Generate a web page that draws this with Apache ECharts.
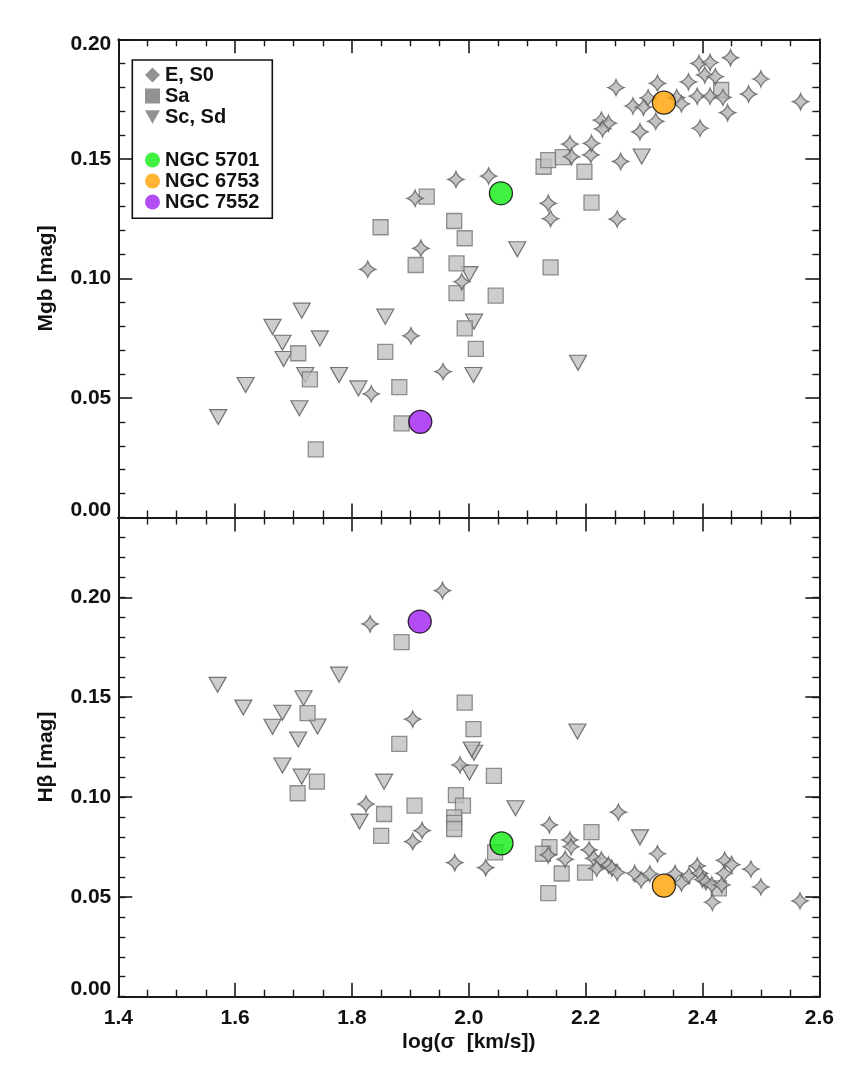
<!DOCTYPE html>
<html><head><meta charset="utf-8">
<script src="https://cdn.jsdelivr.net/npm/echarts@6/dist/echarts.min.js"></script>
<style>html,body{margin:0;padding:0;background:#fff}#c{width:855px;height:1072px}</style>
</head><body><div id="c"></div>
<script>
// ---- tick labels ----
const xTickLabels = ['1.4','1.6','1.8','2.0','2.2','2.4','2.6'];
const yTickLabels = ['0.00','0.05','0.10','0.15','0.20'];

// ---- top panel: Mgb vs log(sigma) ----
const mgbE = [[1.827,0.1038],[1.833,0.0517],[1.901,0.0760],[1.908,0.1335],[1.918,0.1126],[1.956,0.0610],[1.978,0.1414],[1.988,0.0986],[2.034,0.1428],[2.136,0.1314],[2.140,0.1250],[2.173,0.1562],[2.176,0.1509],[2.209,0.1517],[2.210,0.1565],[2.227,0.1662],[2.239,0.1649],[2.229,0.1625],[2.254,0.1248],[2.260,0.1489],[2.252,0.1798],[2.281,0.1721],[2.299,0.1716],[2.307,0.1755],[2.293,0.1613],[2.320,0.1657],[2.323,0.1816],[2.356,0.1756],[2.364,0.1730],[2.376,0.1822],[2.391,0.1762],[2.394,0.1899],[2.396,0.1628],[2.404,0.1851],[2.413,0.1903],[2.413,0.1762],[2.422,0.1844],[2.435,0.1757],[2.443,0.1693],[2.448,0.1923],[2.479,0.1771],[2.500,0.1834],[2.568,0.1739]];
const mgbSa = [[1.708,0.0687],[1.728,0.0578],[1.738,0.0285],[1.849,0.1214],[1.857,0.0693],[1.881,0.0545],[1.885,0.0394],[1.909,0.1056],[1.928,0.1342],[1.975,0.1240],[1.979,0.1063],[1.979,0.0938],[1.993,0.1168],[1.993,0.0791],[2.012,0.0705],[2.046,0.0928],[2.128,0.1467],[2.136,0.1495],[2.161,0.1507],[2.198,0.1446],[2.210,0.1317],[2.140,0.1046],[2.432,0.1788]];
const mgbSc = [[1.571,0.0420],[1.618,0.0554],[1.664,0.0797],[1.681,0.0731],[1.683,0.0663],[1.714,0.0865],[1.710,0.0457],[1.720,0.0596],[1.745,0.0749],[1.778,0.0596],[1.811,0.0540],[1.857,0.0840],[2.001,0.1018],[2.009,0.0819],[2.008,0.0596],[2.083,0.1122],[2.187,0.0647],[2.296,0.1510]];
const mgb5701 = [[2.055,0.1356]];
const mgb6753 = [[2.334,0.1735]];
const mgb7552 = [[1.917,0.0400]];

// ---- bottom panel: Hbeta vs log(sigma) ----
const hbE = [[1.831,0.1867],[1.955,0.2034],[1.904,0.1390],[1.985,0.1161],[1.824,0.0965],[1.920,0.0832],[1.904,0.0777],[1.976,0.0671],[2.029,0.0646],[2.256,0.0924],[2.138,0.0860],[2.173,0.0785],[2.175,0.0751],[2.165,0.0688],[2.136,0.0710],[2.206,0.0735],[2.214,0.0693],[2.219,0.0643],[2.227,0.0685],[2.239,0.0660],[2.245,0.0643],[2.254,0.0622],[2.323,0.0716],[2.284,0.0617],[2.295,0.0585],[2.310,0.0615],[2.353,0.0617],[2.364,0.0569],[2.377,0.0607],[2.391,0.0655],[2.395,0.0618],[2.400,0.0587],[2.406,0.0576],[2.416,0.0560],[2.417,0.0473],[2.433,0.0560],[2.437,0.0618],[2.438,0.0683],[2.450,0.0662],[2.483,0.0639],[2.500,0.0550],[2.567,0.0480]];
const hbSa = [[1.885,0.1776],[1.724,0.1420],[1.881,0.1266],[1.993,0.1473],[2.008,0.1340],[2.043,0.1106],[1.740,0.1077],[1.707,0.1019],[1.907,0.0957],[1.855,0.0915],[1.850,0.0805],[1.978,0.1010],[1.990,0.0957],[1.975,0.0898],[1.975,0.0871],[1.975,0.0840],[2.045,0.0723],[2.210,0.0824],[2.138,0.0749],[2.127,0.0716],[2.159,0.0617],[2.199,0.0621],[2.136,0.0519],[2.428,0.0543]];
const hbSc = [[1.570,0.1562],[1.614,0.1448],[1.664,0.1352],[1.681,0.1422],[1.681,0.1158],[1.708,0.1288],[1.717,0.1495],[1.714,0.1102],[1.741,0.1353],[1.778,0.1613],[1.813,0.0877],[1.855,0.1077],[2.001,0.1123],[2.009,0.1222],[2.005,0.1238],[2.080,0.0944],[2.186,0.1328],[2.293,0.0798]];
const hb5701 = [[2.056,0.0768]];
const hb6753 = [[2.334,0.0556]];
const hb7552 = [[1.916,0.1879]];

// ---- styling ----
const FONT = '"Liberation Sans", Arial, Helvetica, sans-serif';
const AX = '#1a1a1a';
const STAR = 'path://M0,-10 Q2.6,-2.6 10,0 Q2.6,2.6 0,10 Q-2.6,2.6 -10,0 Q-2.6,-2.6 0,-10 Z';
const TRI_DOWN = 'path://M0,0 L10,0 L5,9 Z';
const grayFill = '#c0c0c0';
const starFill = '#b4b4b4';
const cGreen = '#12ee12', cOrange = '#ffa200', cPurple = '#a020f0';

const labelText = {fontSize:21, fontWeight:'bold', fontFamily:FONT, color:'#111'};

function xAxisDef(grid, pos, showLabels){
  return {
    type:'value', gridIndex:grid, position:pos, min:1.4, max:2.6, interval:0.2,
    axisLine:{show:true, onZero:false, lineStyle:{color:AX, width:2}},
    axisTick:{show:true, inside:true, length:14, lineStyle:{color:AX, width:1.6}},
    minorTick:{show:true, splitNumber:4, length:7, lineStyle:{color:AX, width:1.4}},
    splitLine:{show:false}, minorSplitLine:{show:false},
    axisLabel: showLabels ? Object.assign({show:true, margin:11,
      formatter:(v)=>{const i=Math.round((v-1.4)/0.2); return xTickLabels[i]||'';}}, labelText) : {show:false},
    name: showLabels ? 'log(σ  [km/s])' : '',
    nameLocation:'middle', nameGap:35,
    nameTextStyle:{fontSize:21, fontWeight:'bold', fontFamily:FONT, color:'#111'}
  };
}
function yMajor(grid, pos, max, showLabels, name, padTop){
  return {
    type:'value', gridIndex:grid, position:pos, min:0, max:max, interval:0.05,
    axisLine:{show:true, onZero:false, lineStyle:{color:AX, width:2}},
    axisTick:{show:true, inside:true, length:14, lineStyle:{color:AX, width:1.6}},
    minorTick:{show: max===0.2, splitNumber:5, length:7, lineStyle:{color:AX, width:1.4}},
    splitLine:{show:false}, minorSplitLine:{show:false},
    axisLabel: showLabels ? Object.assign({show:true, margin:7, showMaxLabel: max===0.2,
      formatter:(v)=>{const i=Math.round(v/0.05); if(v>0.2001||i<0||i>4) return '';
        const s=yTickLabels[i]; if(i===0) return '{lo|'+s+'}'; if(i===4 && padTop) return '{hi|'+s+'}'; return s;},
      rich:{lo:Object.assign({padding:[0,0,15,0]}, labelText), hi:Object.assign({padding:[10,0,0,0]}, labelText)}
    }, labelText) : {show:false},
    name: name||'', nameLocation:'middle', nameGap:62,
    nameTextStyle:{fontSize:21, fontWeight:'bold', fontFamily:FONT, color:'#111'}
  };
}
function yMinor(grid, pos, max){
  return {
    type:'value', gridIndex:grid, position:pos, min:0, max:max, interval:0.01,
    axisLine:{show:false, onZero:false},
    axisTick:{show:true, inside:true, length:7, lineStyle:{color:AX, width:1.4}},
    splitLine:{show:false}, axisLabel:{show:false}
  };
}

function sc(name, data, xi, yi, kind){
  const s = {type:'scatter', name:name, data:data, xAxisIndex:xi, yAxisIndex:yi, animation:false,
    emphasis:{disabled:true}, silent:true};
  if(kind==='E'){ s.symbol=STAR; s.symbolSize=16; s.itemStyle={color:starFill, borderColor:'#5e5e5e', borderWidth:1.3}; s.z=4; }
  else if(kind==='Sa'){ s.symbol='rect'; s.symbolSize=15; s.itemStyle={color:grayFill, borderColor:'#757575', borderWidth:1.3}; s.z=3; }
  else if(kind==='Sc'){ s.symbol=TRI_DOWN; s.symbolSize=[17,15]; s.itemStyle={color:grayFill, borderColor:'#555', borderWidth:1.2}; s.z=2; }
  else { s.symbol='circle'; s.symbolSize=23; s.itemStyle={color:kind, borderColor:'#000', borderWidth:1.3}; s.z=6; }
  return s;
}

const chart = echarts.init(document.getElementById('c'), null, {renderer:'canvas'});
const legendText = {fontSize:20, fontWeight:'bold', fontFamily:FONT, color:'#111', lineHeight:21};
chart.setOption({
  animation:false,
  backgroundColor:'#fff',
  grid:[
    {left:118.3, top:39.3, width:701, height:478.2},
    {left:118.3, top:517.5, width:701, height:479.2}
  ],
  xAxis:[ xAxisDef(0,'bottom',false), xAxisDef(0,'top',false), xAxisDef(1,'bottom',true), xAxisDef(1,'top',false) ],
  yAxis:[
    yMajor(0,'left',0.2,true,'Mgb [mag]',true), yMajor(0,'right',0.2,false,'',false),
    yMajor(1,'left',0.24,true,'Hβ [mag]',false), yMinor(1,'left',0.24),
    yMajor(1,'right',0.24,false,'',false), yMinor(1,'right',0.24)
  ],
  legend:[
    {orient:'vertical', left:145, top:64.5, padding:0, itemWidth:15, itemHeight:15, itemGap:0, selectedMode:false,
     textStyle:legendText,
     data:[
      {name:'E, S0', icon:'diamond', itemStyle:{color:'#777', borderWidth:0}},
      {name:'Sa', icon:'rect', itemStyle:{color:'#777', borderWidth:0}},
      {name:'Sc, Sd', icon:TRI_DOWN, itemStyle:{color:'#777', borderWidth:0}}
     ]},
    {orient:'vertical', left:145, top:149.5, padding:0, itemWidth:15, itemHeight:15, itemGap:0, selectedMode:false,
     textStyle:legendText,
     data:[
      {name:'NGC 5701', icon:'circle', itemStyle:{color:cGreen, borderWidth:0}},
      {name:'NGC 6753', icon:'circle', itemStyle:{color:cOrange, borderWidth:0}},
      {name:'NGC 7552', icon:'circle', itemStyle:{color:cPurple, borderWidth:0}}
     ]}
  ],
  graphic:[
    {type:'rect', z:100, shape:{x:132.3, y:60, width:140, height:158.3}, style:{fill:'transparent', stroke:'#111', lineWidth:1.6}}
  ],
  series:[
    sc('Sc, Sd', mgbSc, 0, 0, 'Sc'),
    sc('Sa', mgbSa, 0, 0, 'Sa'),
    sc('E, S0', mgbE, 0, 0, 'E'),
    sc('NGC 5701', mgb5701, 0, 0, cGreen),
    sc('NGC 6753', mgb6753, 0, 0, cOrange),
    sc('NGC 7552', mgb7552, 0, 0, cPurple),
    sc('Sc, Sd', hbSc, 2, 2, 'Sc'),
    sc('Sa', hbSa, 2, 2, 'Sa'),
    sc('E, S0', hbE, 2, 2, 'E'),
    sc('NGC 5701', hb5701, 2, 2, cGreen),
    sc('NGC 6753', hb6753, 2, 2, cOrange),
    sc('NGC 7552', hb7552, 2, 2, cPurple)
  ]
});
</script></body></html>
